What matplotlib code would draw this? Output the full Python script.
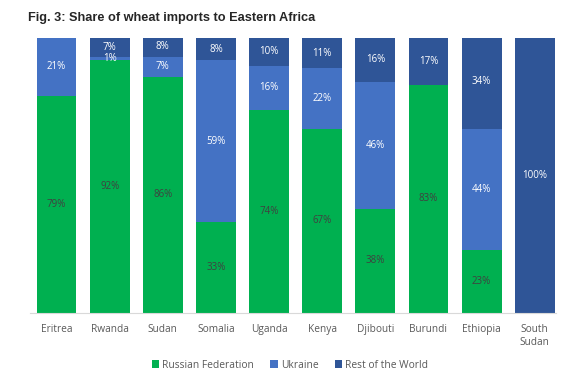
import numpy as np
import matplotlib
matplotlib.use('Agg')
import matplotlib.pyplot as plt

countries = ['Eritrea', 'Rwanda', 'Sudan', 'Somalia', 'Uganda', 'Kenya',
             'Djibouti', 'Burundi', 'Ethiopia', 'South\nSudan']
russia = [79, 92, 86, 33, 74, 67, 38, 83, 23, 0]
ukraine = [21, 1, 7, 59, 16, 22, 46, 0, 44, 0]
rest = [0.4, 7, 8, 8, 10, 11, 16, 17, 34, 100]

plt.rcParams['font.family'] = ['Open Sans', 'DejaVu Sans']

fig = plt.figure(figsize=(5.61, 3.77), dpi=100)
ax = fig.add_axes([30/561, 64/377, 526/561, 275/377])

x = np.arange(len(countries))
w = 0.75
green = '#00B050'
blue = '#4472C4'
dark = '#2F5597'

b1 = ax.bar(x, russia, w, color=green, label='Russian Federation')
b2 = ax.bar(x, ukraine, w, bottom=russia, color=blue, label='Ukraine')
bottom2 = np.array(russia) + np.array(ukraine)
b3 = ax.bar(x, rest, w, bottom=bottom2, color=dark, label='Rest of the World')

for bars, vals, bots, col in [(b1, russia, np.zeros(10), '#404040'),
                              (b2, ukraine, np.array(russia), 'white'),
                              (b3, rest, bottom2, 'white')]:
    for i, v in enumerate(vals):
        if v >= 1:
            ax.text(x[i], bots[i] + v / 2, '%d%%' % round(v), ha='center', va='center',
                    fontsize=7, color=col)

ax.set_xlim(-0.5, 9.4)
ax.set_ylim(0, 100)
ax.set_yticks([])
ax.set_xticks(x)
ax.set_xticklabels(countries, fontsize=7.3, color='#595959', linespacing=1.2)
ax.tick_params(axis='x', length=0, pad=8)
for s in ['top', 'right', 'left']:
    ax.spines[s].set_visible(False)
ax.spines['bottom'].set_color('#D9D9D9')
ax.spines['bottom'].set_linewidth(0.8)

fig.text(28/561, 1 - 18/377, 'Fig. 3: Share of wheat imports to Eastern Africa',
         fontsize=9.2, fontweight='bold', color='#262626', va='center',
         family=['Liberation Sans', 'DejaVu Sans'])

fig.legend(handles=[b1, b2, b3], loc='center', bbox_to_anchor=(290/561, 1 - 365/377),
           ncol=3, frameon=False, fontsize=7.4, handlelength=0.7, handleheight=0.7,
           handletextpad=0.3, columnspacing=1.6, labelcolor='#595959')

fig.savefig('out.png', dpi=100)
